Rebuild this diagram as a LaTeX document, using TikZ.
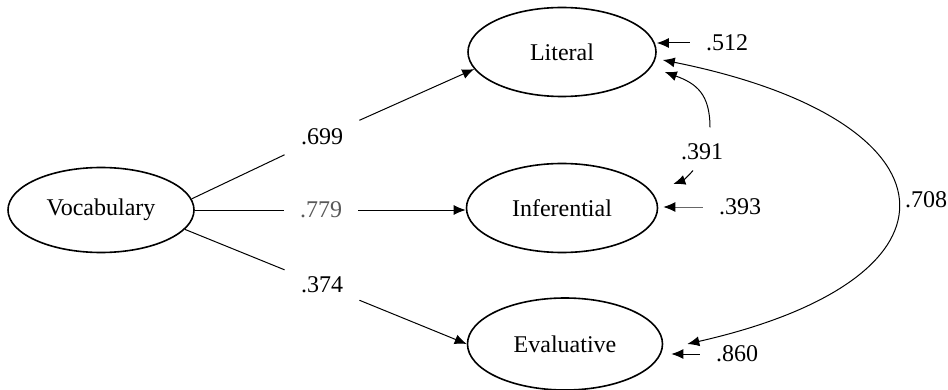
\documentclass[tikz,border=0pt]{standalone}
\usepackage{fontspec}
\setmainfont{Liberation Serif}
\usetikzlibrary{arrows.meta,shapes.geometric}

\begin{document}
\begin{tikzpicture}[x=0.5pt,y=-0.5pt,font=\fontsize{12}{14}\selectfont]
\tikzstyle{latent}=[draw=black,line width=0.8pt,ellipse,inner sep=0pt]
\tikzstyle{coef}=[inner sep=8pt]
\tikzstyle{link}=[black,line width=0.5pt]
\tikzstyle{arr}=[-{Latex[length=6pt,width=5pt]}]
\tikzstyle{twoarr}=[{Latex[length=6pt,width=5pt]}-{Latex[length=6pt,width=5pt]}]
\useasboundingbox (0,0) rectangle (948,390);
\node [latent,minimum width=93pt,minimum height=42.5pt] (Vocabulary) at (101,210) {Vocabulary};
\node [latent,minimum width=94pt,minimum height=44.5pt] (Literal) at (562,52) {Literal};
\node [latent,minimum width=95.5pt,minimum height=44.5pt] (Inferential) at (562,208) {Inferential};
\node [latent,minimum width=97.5pt,minimum height=46pt] (Evaluative) at (565,344) {Evaluative};
\node [coef] (l699) at (322,137) {.699};
\node [coef,text=black!65] (l779) at (321,210) {.779};
\node [coef] (l374) at (322,285) {.374};
\node [coef] (l512) at (727,43) {.512};
\node [coef] (l391) at (702,152) {.391};
\node [coef] (l393) at (740,207) {.393};
\node [coef] (l860) at (737,354) {.860};
\draw [link] (Vocabulary.7) -- (l699);
\draw [link,arr] (l699) -- (Literal.191);
\draw [link] (Vocabulary.east) -- (l779);
\draw [link,arr] (l779) -- (l779 -| Inferential.west);
\draw [link] (Vocabulary.-13) -- (l374);
\draw [link,arr] (l374) -- (Evaluative.west);
\draw [link,arr] (l512) -- (l512 -| Literal.east);
\draw [link,black!60,-{Latex[length=6pt,width=5pt,color=black]},shorten >=2.5pt] (l393) -- (l393 -| Inferential.east);
\draw [link,arr,shorten >=4pt] (l860) -- (l860 -| Evaluative.east);
\draw [link,arr] ([xshift=4pt]l391.north) to[out=90,in=-20,looseness=1.2] ([shift={(4pt,-10pt)}]Literal.east);
\draw [link,arr] ([shift={(-4.5pt,3pt)}]l391.south) to[bend left=15] ([shift={(7.5pt,12pt)}]Inferential.east);
\draw [link,twoarr] ([shift={(3pt,-4pt)}]Literal.east) .. controls (962,120) and (979,278) .. node [anchor=west,inner sep=4pt] (l708) {.708} ([xshift=12pt]Evaluative.east);
\end{tikzpicture}
\end{document}
